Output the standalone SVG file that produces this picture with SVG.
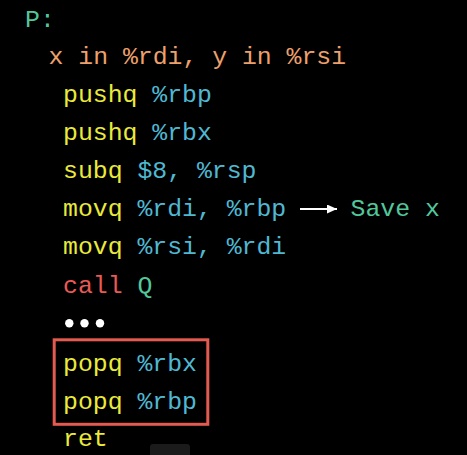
<svg xmlns="http://www.w3.org/2000/svg" width="467" height="455" viewBox="0 0 467 455">
<style>
text{font-family:"Liberation Mono","DejaVu Sans Mono",monospace;font-size:24.8px}
.g{fill:#52c79c}.o{fill:#eda06c}.y{fill:#eaea3a}.b{fill:#4fb8d2}.r{fill:#ea5a55}.w{fill:#ffffff}
</style>
<defs>
<marker id="ah" markerWidth="10" markerHeight="9" refX="10" refY="4.5" orient="auto" markerUnits="userSpaceOnUse">
<path d="M0,0 L10,4.5 L0,9 Z" fill="#ffffff"/>
</marker>
</defs>
<rect width="467" height="455" fill="#000000"/>
<rect x="150" y="444" width="40" height="14" rx="3" fill="#1b1b1b"/>
<g id="label-P"><text x="25" y="27" class="g">P:</text></g>
<g id="args"><text x="48.5" y="63.5" class="o">x in %rdi, y in %rsi</text></g>
<g id="code">
<text x="63" y="102"><tspan class="y">pushq</tspan> <tspan class="b">%rbp</tspan></text>
<text x="63" y="140"><tspan class="y">pushq</tspan> <tspan class="b">%rbx</tspan></text>
<text x="63" y="177.5"><tspan class="y">subq</tspan> <tspan class="b">$8, %rsp</tspan></text>
<text x="63" y="215.5"><tspan class="y">movq</tspan> <tspan class="b">%rdi, %rbp</tspan></text>
<text x="63" y="254"><tspan class="y">movq</tspan> <tspan class="b">%rsi, %rdi</tspan></text>
<text x="63" y="293"><tspan class="r">call</tspan> <tspan class="g">Q</tspan></text>
<g id="dots" class="w"><circle cx="69.3" cy="323.3" r="4.2"/><circle cx="84.5" cy="323.3" r="4.2"/><circle cx="100" cy="323.3" r="4.2"/></g>
<text x="63" y="370.5"><tspan class="y">popq</tspan> <tspan class="b">%rbx</tspan></text>
<text x="63" y="408.5"><tspan class="y">popq</tspan> <tspan class="b">%rbp</tspan></text>
<text x="63" y="445.5" class="y">ret</text>
</g>
<g id="restore-box"><rect x="54.2" y="339.8" width="153.6" height="84.5" fill="none" stroke="#e25a50" stroke-width="3"/></g>
<g id="connectors"><line x1="300" y1="209" x2="337" y2="209" stroke="#ffffff" stroke-width="2" marker-end="url(#ah)"/></g>
<g id="note"><text x="350.5" y="215.5" class="g">Save x</text></g>
</svg>
